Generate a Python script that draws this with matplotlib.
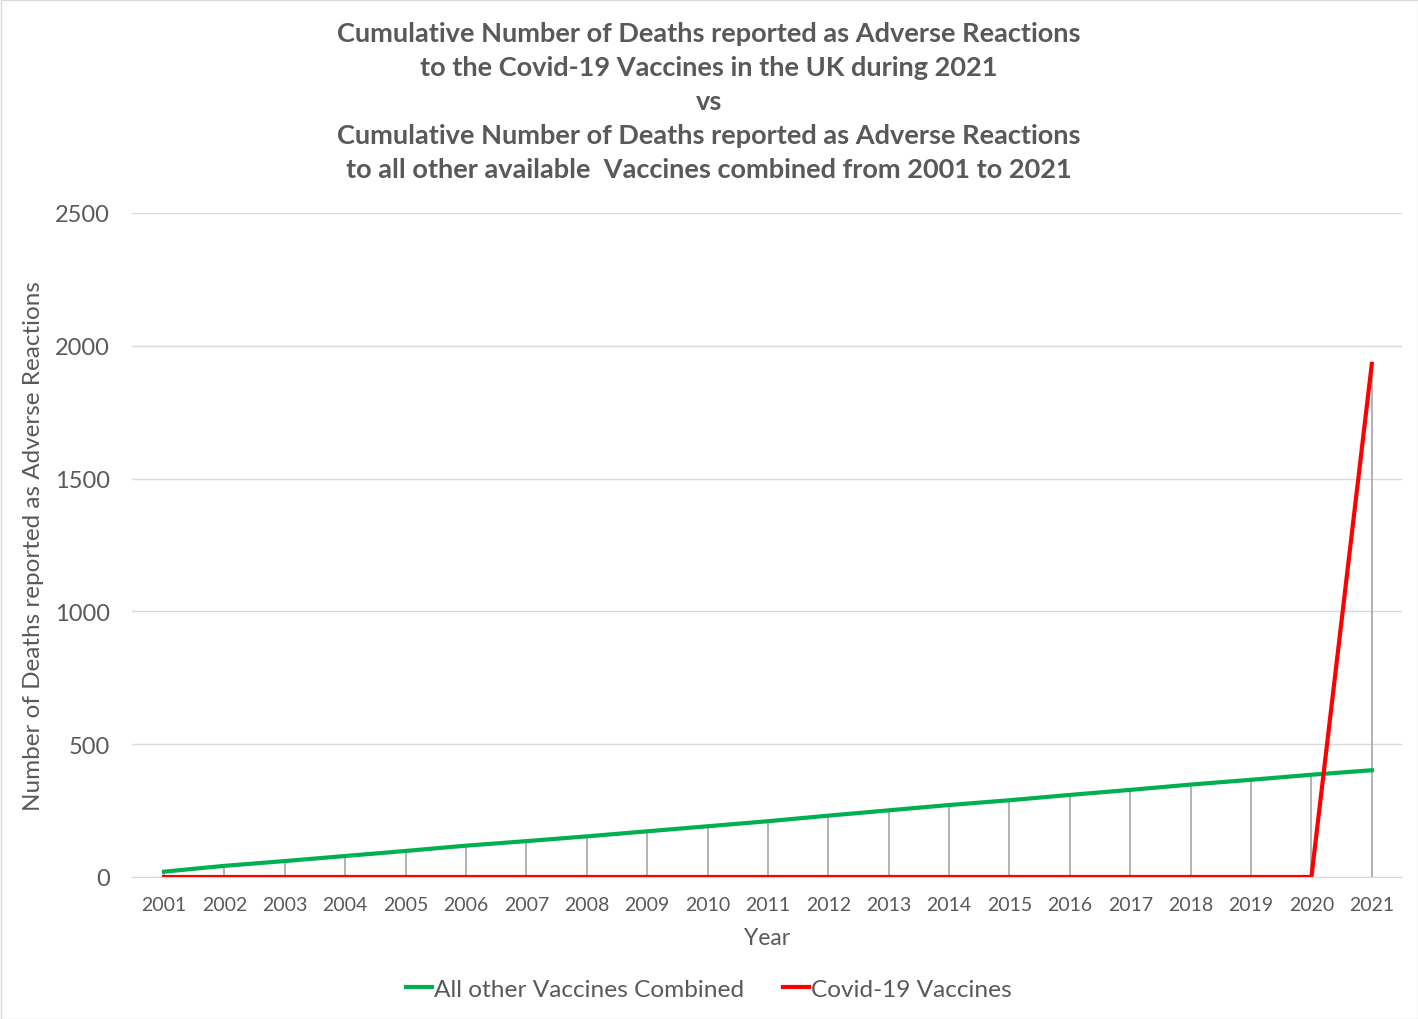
import matplotlib
matplotlib.use("Agg")
import matplotlib.pyplot as plt
from matplotlib.patches import Rectangle

years = [str(y) for y in range(2001, 2022)]
other_vaccines = [20, 42, 60, 79, 98, 118, 135, 153, 172, 191, 210, 231, 251, 271,
                  289, 309, 328, 348, 366, 385, 402]
covid_vaccines = [0]*20 + [1932]
yticks = [0, 500, 1000, 1500, 2000, 2500]

plt.rcParams['font.family'] = ['Lato', 'DejaVu Sans']
txt = '#595959'

fig = plt.figure(figsize=(14.18, 10.20), dpi=100)
ax = fig.add_axes([132/1418, 1-878/1020, (1402-132)/1418, (878-214)/1020])

x = list(range(len(years)))
tops = [max(a, b) for a, b in zip(other_vaccines, covid_vaccines)]
ax.vlines(x, 0, tops, color='#a6a6a6', lw=1.2, zorder=2)
ax.plot(x, other_vaccines, color='#00b050', lw=3, label='All other Vaccines Combined', zorder=3)
ax.plot(x, covid_vaccines, color='#ff0000', lw=3, label='Covid-19 Vaccines', zorder=4)

ax.set_xlim(-0.53, 20.5)
ax.set_ylim(0, 2500)
ax.set_yticks(yticks)
ax.set_xticks(x)
ax.set_xticklabels(years, fontsize=14, color=txt)
ax.set_yticklabels([str(v) for v in yticks], fontsize=17, color=txt)
ax.yaxis.grid(True, color='#d9d9d9', lw=1)
ax.set_axisbelow(True)
for s in ['top', 'right', 'left']:
    ax.spines[s].set_visible(False)
ax.spines['bottom'].set_color('#d9d9d9')
ax.tick_params(axis='both', length=0)
ax.tick_params(axis='x', pad=14)
ax.tick_params(axis='y', pad=16)
ax.set_xlabel('Year', fontsize=16.5, color=txt, labelpad=10)
ax.set_ylabel('Number of Deaths reported as Adverse Reactions', fontsize=17.5, color=txt, labelpad=8)

fig.text(0.5, 1-102/1020,
         'Cumulative Number of Deaths reported as Adverse Reactions\n'
         'to the Covid-19 Vaccines in the UK during 2021\n'
         'vs\n'
         'Cumulative Number of Deaths reported as Adverse Reactions\n'
         'to all other available  Vaccines combined from 2001 to 2021',
         ha='center', va='center', fontsize=19.5, fontweight='bold', color=txt,
         linespacing=1.5)

leg = fig.legend(loc='center', bbox_to_anchor=(0.5, 1-990/1020), ncol=2, frameon=False,
                 fontsize=17.6, handlelength=1.05, handletextpad=0.1, columnspacing=1.6)
for t in leg.get_texts():
    t.set_color(txt)

fig.patches.append(Rectangle((0.5/1418, 0.5/1020), 1-1/1418, 1-1/1020, transform=fig.transFigure,
                             fill=False, edgecolor='#d9d9d9', lw=1))
fig.savefig('out.png', dpi=100)
